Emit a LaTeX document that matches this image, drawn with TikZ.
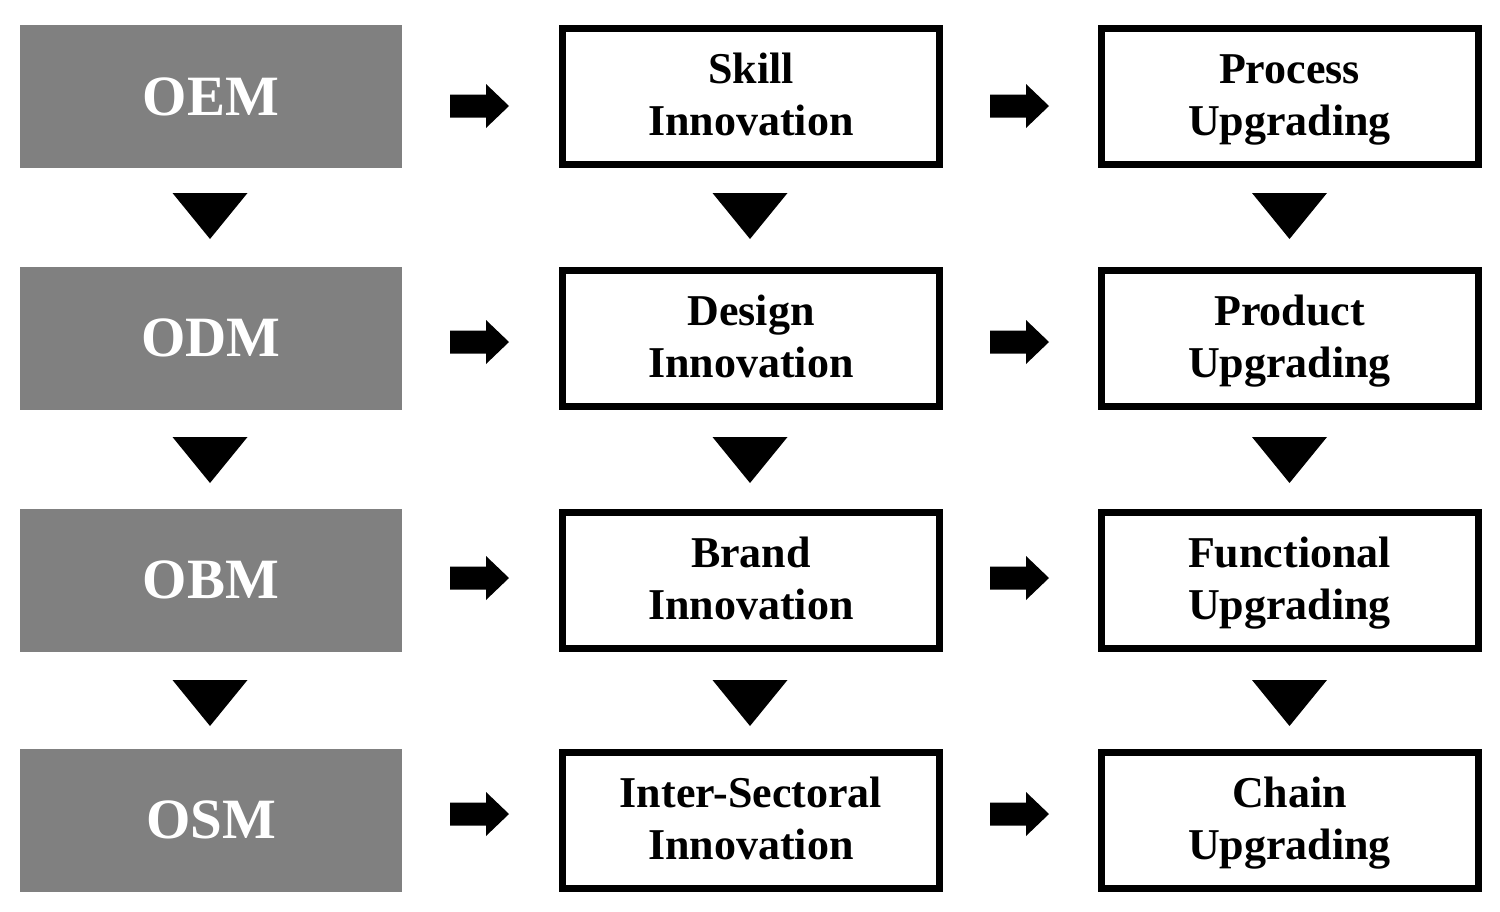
\documentclass[tikz,border=0pt]{standalone}
\usepackage{fontspec}
\setmainfont{Liberation Serif}
\definecolor{boxgray}{RGB}{128,128,128}
\begin{document}
\begin{tikzpicture}[x=1pt,y=-1pt,
  gbox/.style={fill=boxgray, text=white, inner sep=0pt, minimum width=382pt, minimum height=143pt,
    font=\fontsize{57}{60}\selectfont\bfseries},
  wbox/.style={draw=black, line width=7pt, fill=white, inner sep=0pt, minimum width=377pt, minimum height=136pt,
    align=center, text height=78pt, text depth=0pt, font=\fontsize{44}{52}\selectfont\bfseries},
  rarrow/.pic={\fill[black] (0,-11.5) -- (36,-11.5) -- (36,-22) -- (59,0) -- (36,22) -- (36,11.5) -- (0,11.5) -- cycle;},
  dtri/.pic={\fill[black] (-37.5,0) -- (37.5,0) -- (0,46) -- cycle;}
]
\useasboundingbox[fill=white] (0,0) rectangle (1500,911);

% left column
\node[gbox] (oem) at (211,96.5) {OEM};
\node[gbox] (odm) at (211,338) {ODM};
\node[gbox] (obm) at (211,580) {OBM};
\node[gbox] (osm) at (211,820) {OSM};

% middle column
\node[wbox] (skill) at (751,96.5) {Skill\\Innovation};
\node[wbox] (design) at (751,338) {Design\\Innovation};
\node[wbox] (brand) at (751,580) {Brand\\Innovation};
\node[wbox] (inter) at (751,820) {Inter-Sectoral\\Innovation};

% right column
\node[wbox] (process) at (1289.5,96.5) {Process\\Upgrading};
\node[wbox] (product) at (1289.5,338) {Product\\Upgrading};
\node[wbox] (functional) at (1289.5,580) {Functional\\Upgrading};
\node[wbox] (chain) at (1289.5,820) {Chain\\Upgrading};

% right block arrows
\foreach \yy in {106,342,578,814} {
  \pic at (450,\yy) {rarrow};
  \pic at (990,\yy) {rarrow};
}

% down triangles
\foreach \yy in {193,437,680} {
  \pic at (210,\yy) {dtri};
  \pic at (750,\yy) {dtri};
  \pic at (1289.5,\yy) {dtri};
}
\end{tikzpicture}
\end{document}
